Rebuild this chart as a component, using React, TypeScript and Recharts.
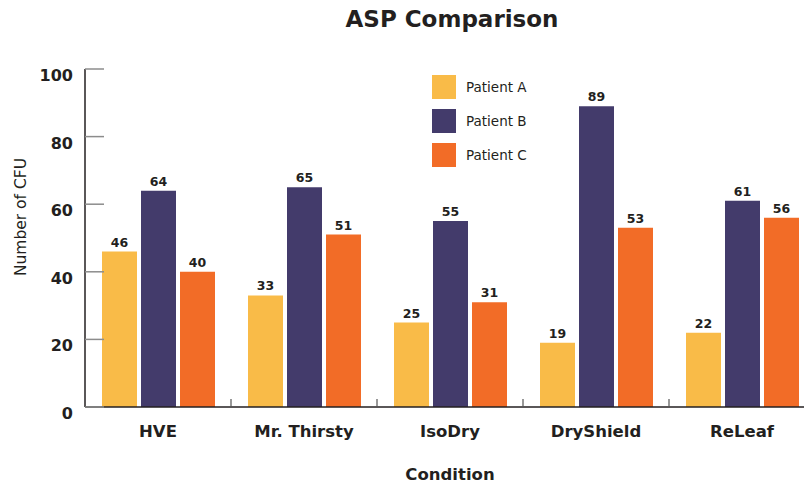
import { BarChart, Bar, XAxis, YAxis, Legend, LabelList } from 'recharts'

const conditions = ['HVE', 'Mr. Thirsty', 'IsoDry', 'DryShield', 'ReLeaf']
const patientA = [46, 33, 25, 19, 22]
const patientB = [64, 65, 55, 89, 61]
const patientC = [40, 51, 31, 53, 56]
const yTicks = [0, 20, 40, 60, 80, 100]

const data = conditions.map((name, i) => ({
  name,
  'Patient A': patientA[i],
  'Patient B': patientB[i],
  'Patient C': patientC[i],
}))

const FONT = '"DejaVu Sans", sans-serif'
const INK = '#231f20'
const W = 830
const H = 483
const M = { top: 69, right: 15, bottom: 0, left: 0 }
const Y_W = 85
const X_H = 76
const BAND = (W - M.left - M.right - Y_W) / conditions.length

function YTick(props: any) {
  const { x, y, payload } = props
  return (
    <g>
      <line x1={x} x2={x + 19} y1={y} y2={y} stroke="#8c8c8c" strokeWidth={1.5} />
      <text x={x - 12} y={y} dy={12} textAnchor="end" fill={INK} fontFamily={FONT} fontWeight={700} fontSize={16}>
        {payload.value}
      </text>
    </g>
  )
}

function XTick(props: any) {
  const { x, y, payload, index } = props
  return (
    <g>
      {index < conditions.length - 1 && (
        <line x1={x + BAND / 2} x2={x + BAND / 2} y1={y - 8} y2={y} stroke="#555" strokeWidth={1.2} />
      )}
      <text x={x} y={y + 30} textAnchor="middle" fill={INK} fontFamily={FONT} fontWeight={600} fontSize={16.5}>
        {payload.value}
      </text>
    </g>
  )
}

function YLabel(props: any) {
  const { viewBox } = props
  const cx = viewBox.x + 21
  const cy = viewBox.y + viewBox.height / 2 - 21
  return (
    <text x={cx} y={cy} transform={`rotate(-90 ${cx} ${cy})`} textAnchor="middle" dominantBaseline="central"
      fill={INK} fontFamily={FONT} fontSize={15.5}>
      Number of CFU
    </text>
  )
}

function LegendBox(props: any) {
  const { payload } = props
  return (
    <div style={{ fontFamily: FONT, color: INK }}>
      {payload.map((p: any) => (
        <div key={p.value} style={{ display: 'flex', alignItems: 'center', height: 34 }}>
          <span style={{ width: 24, height: 24, background: p.color, display: 'inline-block' }} />
          <span style={{ marginLeft: 10, fontSize: 13.5, fontWeight: 500 }}>{p.value}</span>
        </div>
      ))}
    </div>
  )
}

const labelStyle = { fill: INK, fontFamily: FONT, fontWeight: 700, fontSize: 12.5 }

export default function App() {
  return (
    <div style={{ position: 'absolute', left: 0, top: 0, width: 804, height: 483, overflow: 'hidden', background: '#fff' }}>
      <div style={{ position: 'absolute', left: 0, top: 6, width: 904, textAlign: 'center', fontFamily: FONT, fontWeight: 700, fontSize: 23, color: INK }}>
        ASP Comparison
      </div>
      <BarChart width={W} height={H} data={data} margin={M} barSize={35} barGap={4}>
        <XAxis dataKey="name" height={X_H} tickSize={0} tickMargin={0} tick={<XTick />} interval={0}
          axisLine={{ stroke: INK, strokeWidth: 1.5 }}
          label={{ value: 'Condition', position: 'insideBottom', offset: 3, fill: INK, fontFamily: FONT, fontWeight: 700, fontSize: 16.5 }} />
        <YAxis width={Y_W} domain={[0, 100]} ticks={yTicks} tickSize={0} tickMargin={0} tick={<YTick />}
          axisLine={{ stroke: INK, strokeWidth: 1.5 }} label={<YLabel />} />
        <Legend layout="vertical" align="center" verticalAlign="middle" content={<LegendBox />}
          wrapperStyle={{ left: 432, top: 70, width: 150 }} />
        <Bar dataKey="Patient A" fill="#f9bb48" isAnimationActive={false}>
          <LabelList dataKey="Patient A" position="top" offset={5} style={labelStyle} />
        </Bar>
        <Bar dataKey="Patient B" fill="#433b6b" isAnimationActive={false}>
          <LabelList dataKey="Patient B" position="top" offset={5} style={labelStyle} />
        </Bar>
        <Bar dataKey="Patient C" fill="#f26c27" isAnimationActive={false}>
          <LabelList dataKey="Patient C" position="top" offset={5} style={labelStyle} />
        </Bar>
      </BarChart>
    </div>
  )
}
